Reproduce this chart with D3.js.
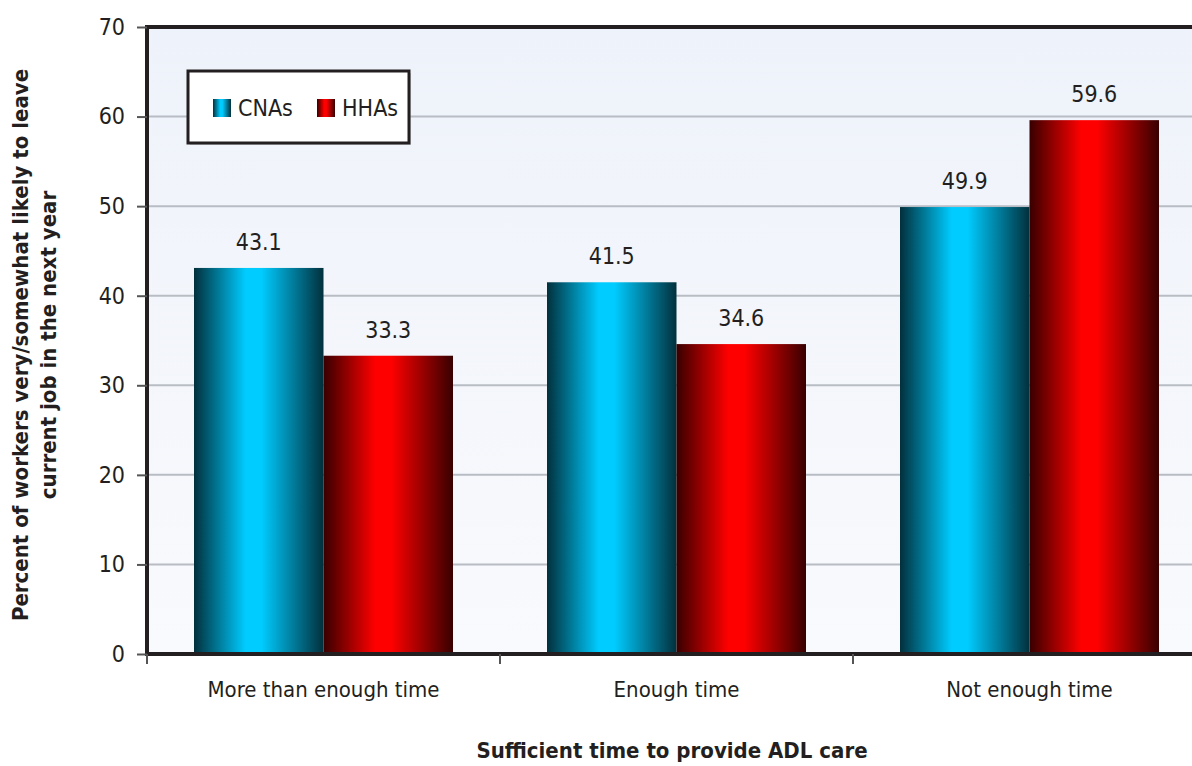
<!DOCTYPE html>
<html>
<head>
<meta charset="utf-8">
<script src="https://cdn.jsdelivr.net/npm/d3@7"></script>
<style>
  body { margin: 0; background: #fff; }
  text { font-family: "Liberation Sans Narrow", "DejaVu Sans Condensed", "Roboto Condensed", sans-serif; fill: #231f20; }
</style>
</head>
<body>
<script>
const categories = ["More than enough time", "Enough time", "Not enough time"];
const seriesNames = ["CNAs", "HHAs"];
const cnaValues = [43.1, 41.5, 49.9];
const hhaValues = [33.3, 34.6, 59.6];
const yTicks = [0, 10, 20, 30, 40, 50, 60, 70];

const W = 1192, H = 766;
const margin = {top: 27, right: -14, bottom: 112, left: 147};
const width = W - margin.left - margin.right;
const height = H - margin.top - margin.bottom;

const svg = d3.select("body").append("svg")
  .attr("width", W)
  .attr("height", H);

const defs = svg.append("defs");

// bar gradients, dark at edges
function barGrad(id, edge, mid) {
  const g = defs.append("linearGradient").attr("id", id)
    .attr("x1", "0%").attr("x2", "100%").attr("y1", "0%").attr("y2", "0%");
  g.append("stop").attr("offset", "0%").attr("stop-color", edge);
  g.append("stop").attr("offset", "40%").attr("stop-color", mid);
  g.append("stop").attr("offset", "52%").attr("stop-color", mid);
  g.append("stop").attr("offset", "100%").attr("stop-color", edge);
}
barGrad("gradCNA", "#02303c", "#00ccff");
barGrad("gradHHA", "#380000", "#ff0000");

const bg = defs.append("linearGradient").attr("id", "gradBg")
  .attr("x1", "0%").attr("x2", "0%").attr("y1", "0%").attr("y2", "100%");
bg.append("stop").attr("offset", "0%").attr("stop-color", "#eef2fa");
bg.append("stop").attr("offset", "100%").attr("stop-color", "#f9fafd");

const g = svg.append("g")
  .attr("transform", "translate(" + margin.left + "," + margin.top + ")");

const x0 = d3.scaleBand().domain(categories).range([0, 353 * 3]).paddingInner(0).paddingOuter(0);
const x1 = d3.scaleBand().domain(seriesNames).range([47, 353 - 47]);
const y = d3.scaleLinear().domain([0, 70]).range([height, 0]);

// plot background
g.append("rect")
  .attr("width", width)
  .attr("height", height)
  .style("fill", "url(#gradBg)");

// gridlines
g.append("g")
  .selectAll("line")
  .data(yTicks.filter(d => d > 0 && d < 70))
  .enter().append("line")
  .attr("x1", 0)
  .attr("x2", width)
  .attr("y1", d => y(d))
  .attr("y2", d => y(d))
  .style("stroke", "#b8bcc4")
  .style("stroke-width", 2);

// bars
const groups = g.selectAll(".grp")
  .data(categories)
  .enter().append("g")
  .attr("class", "grp")
  .attr("transform", d => "translate(" + x0(d) + ",0)");

groups.selectAll("rect")
  .data((d, i) => [
    {s: "CNAs", v: cnaValues[i], fill: "url(#gradCNA)"},
    {s: "HHAs", v: hhaValues[i], fill: "url(#gradHHA)"}
  ])
  .enter().append("rect")
  .attr("x", d => x1(d.s))
  .attr("width", x1.bandwidth())
  .attr("y", d => y(d.v))
  .attr("height", d => y(0) - y(d.v))
  .style("fill", d => d.fill);

groups.selectAll(".val")
  .data((d, i) => [
    {s: "CNAs", v: cnaValues[i]},
    {s: "HHAs", v: hhaValues[i]}
  ])
  .enter().append("text")
  .attr("class", "val")
  .attr("x", d => x1(d.s) + x1.bandwidth() / 2)
  .attr("y", d => y(d.v) - 18)
  .attr("text-anchor", "middle")
  .style("font-size", "23px")
  .text(d => d.v.toFixed(1));

// axes frame
g.append("line").attr("x1", 0).attr("x2", width).attr("y1", 0).attr("y2", 0)
  .style("stroke", "#231f20").style("stroke-width", 4);
g.append("line").attr("x1", 0).attr("x2", 0).attr("y1", -2).attr("y2", height + 2)
  .style("stroke", "#231f20").style("stroke-width", 4);
g.append("line").attr("x1", 0).attr("x2", width).attr("y1", height).attr("y2", height)
  .style("stroke", "#231f20").style("stroke-width", 4);

// y axis
const yAxis = g.append("g")
  .call(d3.axisLeft(y).tickValues(yTicks).tickSize(10).tickPadding(12));
yAxis.select(".domain").remove();
yAxis.selectAll(".tick line").style("stroke", "#555").style("stroke-width", 2);
yAxis.selectAll(".tick text").style("font-size", "23px").style("fill", "#231f20").style("font-family", null);

// x axis
const xAxis = g.append("g")
  .attr("transform", "translate(0," + height + ")")
  .call(d3.axisBottom(x0).tickSize(0).tickPadding(27));
xAxis.select(".domain").remove();
xAxis.selectAll(".tick text").style("font-size", "22px").style("fill", "#231f20").style("font-family", null);

g.append("g")
  .selectAll("line")
  .data(categories)
  .enter().append("line")
  .attr("x1", d => x0(d))
  .attr("x2", d => x0(d))
  .attr("y1", height)
  .attr("y2", height + 10)
  .style("stroke", "#555")
  .style("stroke-width", 2);

// axis titles
svg.append("text")
  .attr("x", 672)
  .attr("y", 758)
  .attr("text-anchor", "middle")
  .style("font-size", "22px")
  .style("font-weight", "bold")
  .text("Sufficient time to provide ADL care");

const yt = svg.append("text")
  .attr("transform", "translate(28,345) rotate(-90)")
  .attr("text-anchor", "middle")
  .style("font-size", "22px")
  .style("font-weight", "bold");
yt.append("tspan").attr("x", 0).attr("y", 0).text("Percent of workers very/somewhat likely to leave");
yt.append("tspan").attr("x", 0).attr("y", 28).text("current job in the next year");

// legend
const legend = svg.append("g").attr("transform", "translate(188,71)");
legend.append("rect")
  .attr("x", 2).attr("y", 2)
  .attr("width", 221).attr("height", 72)
  .style("fill", "#999").style("opacity", 0.4);
legend.append("rect")
  .attr("width", 221).attr("height", 72)
  .style("fill", "#fff")
  .style("stroke", "#231f20")
  .style("stroke-width", 3);

const legItems = legend.selectAll(".li")
  .data([{s: "CNAs", fill: "url(#gradCNA)", x: 25}, {s: "HHAs", fill: "url(#gradHHA)", x: 129}])
  .enter().append("g")
  .attr("transform", d => "translate(" + d.x + ",28)");
legItems.append("rect")
  .attr("width", 18).attr("height", 18)
  .style("fill", d => d.fill);
legItems.append("text")
  .attr("x", 25).attr("y", 17)
  .style("font-size", "23px")
  .text(d => d.s);
</script>
</body>
</html>
